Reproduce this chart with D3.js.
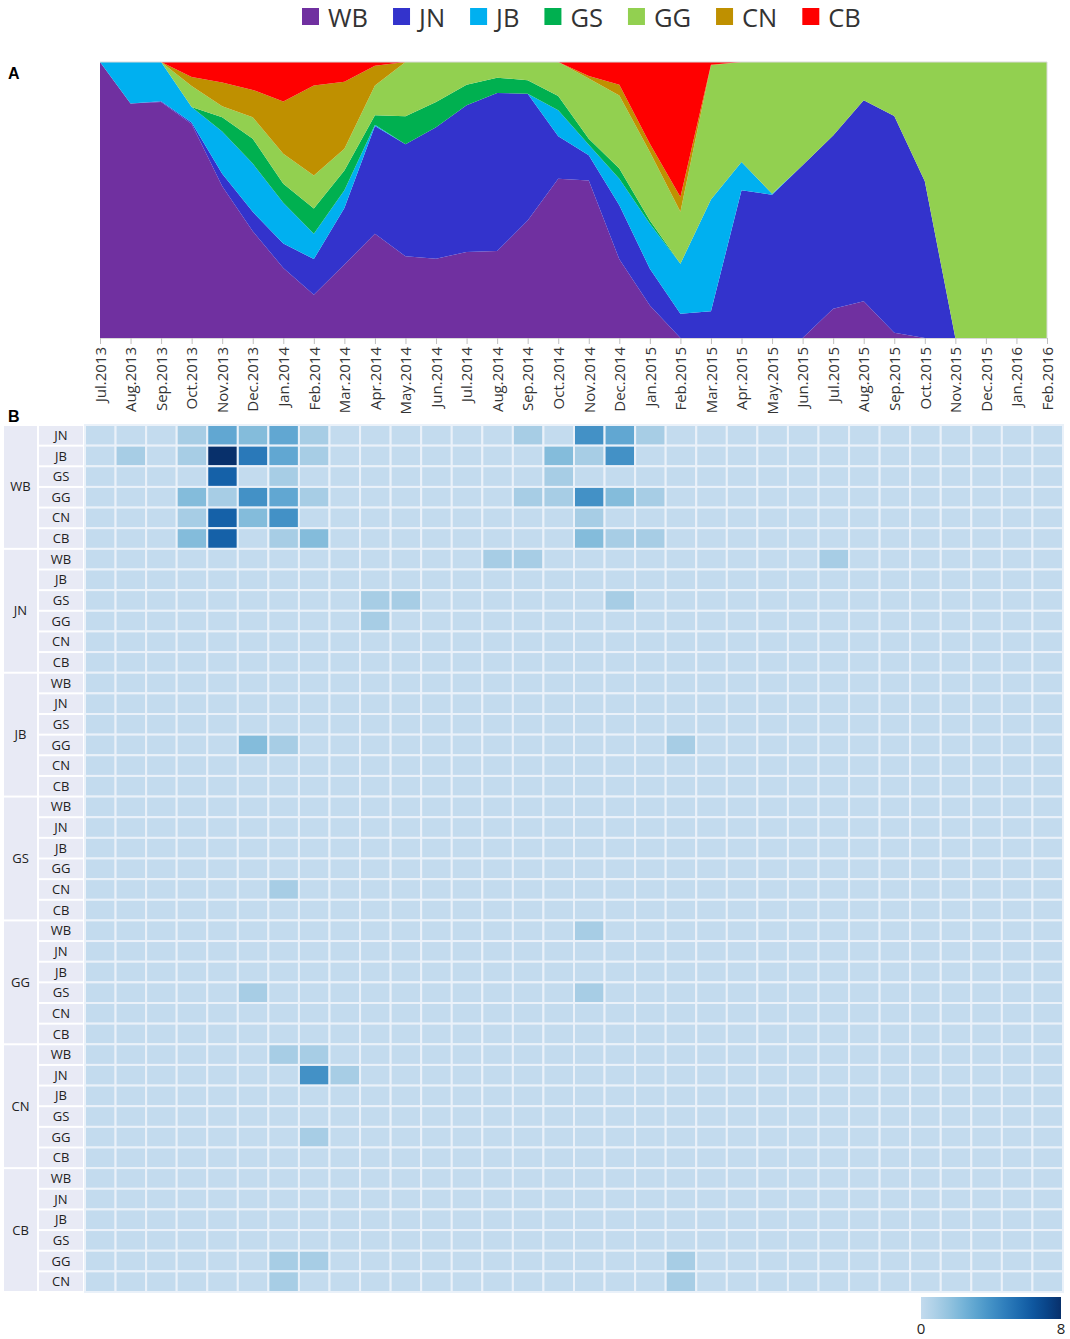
<!DOCTYPE html>
<html>
<head>
<meta charset="utf-8">
<script src="https://cdn.jsdelivr.net/npm/d3@7/dist/d3.min.js"></script>
<style>
  body { margin: 0; background: #fff; }
  svg { display: block; font-family: "Open Sans", sans-serif; }
</style>
</head>
<body>
<svg id="chart" width="1070" height="1339"></svg>
<script>
// months on the x axis (shared by both panels)
const months = ["Jul.2013","Aug.2013","Sep.2013","Oct.2013","Nov.2013","Dec.2013",
  "Jan.2014","Feb.2014","Mar.2014","Apr.2014","May.2014","Jun.2014","Jul.2014",
  "Aug.2014","Sep.2014","Oct.2014","Nov.2014","Dec.2014","Jan.2015","Feb.2015",
  "Mar.2015","Apr.2015","May.2015","Jun.2015","Jul.2015","Aug.2015","Sep.2015",
  "Oct.2015","Nov.2015","Dec.2015","Jan.2016","Feb.2016"];

const series = ["WB","JN","JB","GS","GG","CN","CB"];
const seriesColors = ["#7030a0","#3333cc","#00b0f0","#00b050","#92d050","#bf9000","#ff0000"];

// share of each group per month (%)
const WB = [100,85,85.5,77.5,55,38.7,25.4,15.7,26.6,37.8,29.6,28.7,31.2,31.5,42.6,57.7,57.1,28.5,11.8,0,0,0,0,0,10.6,13.3,1.9,0,0,0,0,0];
const JN = [0,0,0.3,0.6,4.5,7,8.8,12.9,20.5,39,40.6,47.7,53.1,57.3,45.9,15.4,9.1,19.6,13.3,8.8,9.7,53.5,51.9,62.6,62.8,72.8,78.5,56.8,0,0,0,0];
const JB = [0,15,14.2,5.6,15.3,17.5,14.8,9.2,6.4,0.5,0,0,0,0,0,9.4,3.8,9.6,16.3,18.1,40.5,10.3,0.4,0,0,0,0,0,0,0,0,0];
const GS = [0,0,0,0,5.2,9,6.9,9.1,7.2,3.4,10.1,9.1,7.5,5.5,4.9,5.2,2.2,3.7,1.2,0,0,0,0,0,0,0,0,0,0,0,0,0];
const GG = [0,0,0,7.6,4,7.8,10.9,12,7.9,10.8,19.7,14.5,8.2,5.7,6.6,12.3,21.8,26.5,24.8,18.8,48.6,36.2,47.7,37.4,26.6,13.9,19.6,43.2,100,100,100,100];
const CN = [0,0,0,3.3,8.6,9.9,18.9,32.6,24.2,7.1,0,0,0,0,0,0,0.9,3.9,3,5.4,0.2,0,0,0,0,0,0,0,0,0,0,0];
const CB = [0,0,0,5.4,7.4,10.1,14.3,8.5,7.2,1.4,0,0,0,0,0,0,5.1,8.2,29.6,48.9,1,0,0,0,0,0,0,0,0,0,0,0];

// panel B: non-zero cells [from, to, month, count]; every other cell is 0
const heatCells = [
  ["WB","JN","Oct.2013",1],["WB","JN","Nov.2013",3],["WB","JN","Dec.2013",2],["WB","JN","Jan.2014",3],
  ["WB","JN","Feb.2014",1],["WB","JN","Sep.2014",1],["WB","JN","Nov.2014",4],["WB","JN","Dec.2014",3],
  ["WB","JN","Jan.2015",1],
  ["WB","JB","Aug.2013",1],["WB","JB","Oct.2013",1],["WB","JB","Nov.2013",8],["WB","JB","Dec.2013",5],
  ["WB","JB","Jan.2014",3],["WB","JB","Feb.2014",1],["WB","JB","Oct.2014",2],["WB","JB","Nov.2014",1],
  ["WB","JB","Dec.2014",4],
  ["WB","GS","Nov.2013",6],["WB","GS","Jan.2014",1],["WB","GS","Oct.2014",1],
  ["WB","GG","Oct.2013",2],["WB","GG","Nov.2013",1],["WB","GG","Dec.2013",4],["WB","GG","Jan.2014",3],
  ["WB","GG","Feb.2014",1],["WB","GG","Sep.2014",1],["WB","GG","Oct.2014",1],["WB","GG","Nov.2014",4],
  ["WB","GG","Dec.2014",2],["WB","GG","Jan.2015",1],
  ["WB","CN","Oct.2013",1],["WB","CN","Nov.2013",6],["WB","CN","Dec.2013",2],["WB","CN","Jan.2014",4],
  ["WB","CN","Nov.2014",1],
  ["WB","CB","Oct.2013",2],["WB","CB","Nov.2013",6],["WB","CB","Jan.2014",1],["WB","CB","Feb.2014",2],
  ["WB","CB","Nov.2014",2],["WB","CB","Dec.2014",1],["WB","CB","Jan.2015",1],
  ["JN","WB","Aug.2014",1],["JN","WB","Sep.2014",1],["JN","WB","Jul.2015",1],
  ["JN","GS","Apr.2014",1],["JN","GS","May.2014",1],["JN","GS","Dec.2014",1],
  ["JN","GG","Apr.2014",1],
  ["JB","GG","Dec.2013",2],["JB","GG","Jan.2014",1],["JB","GG","Feb.2015",1],
  ["GS","CN","Jan.2014",1],
  ["GG","WB","Nov.2014",1],["GG","GS","Dec.2013",1],["GG","GS","Nov.2014",1],
  ["CN","WB","Jan.2014",1],["CN","WB","Feb.2014",1],["CN","JN","Feb.2014",4],["CN","JN","Mar.2014",1],
  ["CN","GG","Feb.2014",1],
  ["CB","GG","Jan.2014",1],["CB","GG","Feb.2014",1],["CB","GG","Feb.2015",1],
  ["CB","CN","Jan.2014",1],["CB","CN","Feb.2015",1]
];
const heatMax = 8;

const svg = d3.select('#chart');

// ---------- legend ----------
let lx = 302;
series.forEach((s, i) => {
  const g = svg.append('g').attr('transform', `translate(${lx},0)`);
  g.append('rect').attr('x', 0).attr('y', 8).attr('width', 17).attr('height', 17)
    .attr('fill', seriesColors[i]);
  const t = g.append('text').attr('x', 26).attr('y', 27)
    .style('font-size', '25.5px').attr('fill', '#333').text(s);
  lx += 26 + t.node().getComputedTextLength() + 25;
});

// ---------- panel A: stacked area ----------
const table = months.map((m, i) => ({
  month: m, WB: WB[i], JN: JN[i], JB: JB[i], GS: GS[i], GG: GG[i], CN: CN[i], CB: CB[i]
}));
const stacked = d3.stack().keys(series).offset(d3.stackOffsetExpand)(table);

const x = d3.scalePoint().domain(months).range([100, 1047]);
const y = d3.scaleLinear().domain([0, 1]).range([338, 62]);

const area = d3.area()
  .x(d => x(d.data.month))
  .y0(d => y(d[0]))
  .y1(d => y(d[1]));

svg.append('g').selectAll('path')
  .data(stacked)
  .join('path')
  .attr('d', area)
  .attr('fill', (d, i) => seriesColors[i]);

// faint plot frame
svg.append('path')
  .attr('d', `M100,62H1047V338`)
  .attr('fill', 'none').attr('stroke', '#d9d9d9');

const xAxis = svg.append('g')
  .attr('transform', 'translate(0,338)')
  .call(d3.axisBottom(x).tickSize(6).tickPadding(4));
xAxis.select('.domain').attr('stroke', '#d9d9d9');
xAxis.selectAll('.tick line').attr('stroke', '#bfbfbf');
xAxis.selectAll('.tick text')
  .style('font-size', '15px')
  .style('font-family', '"Open Sans", sans-serif')
  .attr('fill', '#333')
  .attr('transform', 'rotate(-90)')
  .attr('text-anchor', 'end')
  .attr('x', -9)
  .attr('y', 0)
  .attr('dy', '0.35em');

svg.append('text').attr('x', 8).attr('y', 79)
  .style('font-family', '"Liberation Sans", Arial, sans-serif')
  .style('font-weight', 'bold').style('font-size', '16px').text('A');
svg.append('text').attr('x', 8).attr('y', 422)
  .style('font-family', '"Liberation Sans", Arial, sans-serif')
  .style('font-weight', 'bold').style('font-size', '16px').text('B');

// ---------- panel B: heatmap ----------
const rows = [];
series.forEach(src => {
  series.filter(t => t !== src).forEach(tgt => rows.push({ key: src + '-' + tgt, src, tgt }));
});

const lookup = new Map(heatCells.map(c => [c[0] + '-' + c[1] + '|' + c[2], c[3]]));
const cells = [];
rows.forEach(r => months.forEach(m => {
  cells.push({ row: r.key, month: m, value: lookup.get(r.key + '|' + m) || 0 });
}));

const hx = d3.scaleBand().domain(months).range([85, 1063]);
const hy = d3.scaleBand().domain(rows.map(r => r.key)).range([425, 1292]);
const color = d3.scaleSequential(v => d3.interpolateBlues(0.25 + 0.75 * v)).domain([0, heatMax]);

svg.append('g').selectAll('rect')
  .data(cells)
  .join('rect')
  .attr('x', d => hx(d.month))
  .attr('y', d => hy(d.row))
  .attr('width', hx.bandwidth())
  .attr('height', hy.bandwidth())
  .attr('fill', d => color(d.value))
  .attr('stroke', '#eaf1f9')
  .attr('stroke-width', 2);

// group labels
const groupG = svg.append('g');
series.forEach(src => {
  const keys = rows.filter(r => r.src === src).map(r => r.key);
  const y0 = hy(keys[0]), y1 = hy(keys[keys.length - 1]) + hy.bandwidth();
  groupG.append('rect').attr('x', 4).attr('y', y0 + 1).attr('width', 33).attr('height', y1 - y0 - 2)
    .attr('fill', '#e8eaf5');
  groupG.append('text').attr('x', 20.5).attr('y', (y0 + y1) / 2).attr('dy', '0.35em')
    .attr('text-anchor', 'middle').style('font-size', '13px').attr('fill', '#222').text(src);
});

// sub row labels
const subG = svg.append('g').selectAll('g')
  .data(rows)
  .join('g')
  .attr('transform', d => `translate(0,${hy(d.key)})`);
subG.append('rect').attr('x', 39).attr('y', 1).attr('width', 44).attr('height', hy.bandwidth() - 2)
  .attr('fill', '#e8eaf5');
subG.append('text').attr('x', 61).attr('y', hy.bandwidth() / 2).attr('dy', '0.35em')
  .attr('text-anchor', 'middle').style('font-size', '13px').attr('fill', '#222').text(d => d.tgt);

// colour legend
const defs = svg.append('defs');
const grad = defs.append('linearGradient').attr('id', 'heatgrad');
d3.range(0, 1.0001, 0.1).forEach(t => {
  grad.append('stop').attr('offset', t).attr('stop-color', color(t * heatMax));
});
const legScale = d3.scaleLinear().domain([0, heatMax]).range([921, 1061]);
svg.append('rect').attr('x', legScale(0)).attr('y', 1297)
  .attr('width', legScale(heatMax) - legScale(0)).attr('height', 22)
  .attr('fill', 'url(#heatgrad)');
svg.append('g').selectAll('text')
  .data([0, heatMax])
  .join('text')
  .attr('x', d => legScale(d))
  .attr('y', 1334)
  .attr('text-anchor', 'middle')
  .style('font-size', '15px')
  .attr('fill', '#222')
  .text(d => d);
</script>
</body>
</html>
